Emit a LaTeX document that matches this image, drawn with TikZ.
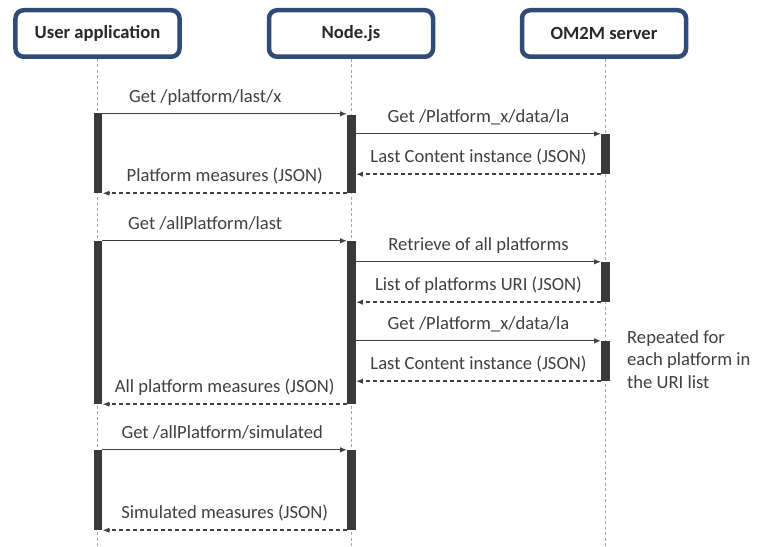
\documentclass[tikz,border=0pt]{standalone}
\usepackage{fontspec}
\setmainfont{Carlito}
\usetikzlibrary{arrows.meta}
\definecolor{boxblue}{RGB}{48,75,117}
\definecolor{txt}{RGB}{64,64,64}
\definecolor{ttl}{RGB}{40,40,40}
\definecolor{barc}{RGB}{58,58,58}
\definecolor{lifec}{RGB}{165,165,165}
\tikzset{
  actor/.style={draw=boxblue, line width=4.5bp, rounded corners=8bp, fill=white,
    minimum width=164bp, minimum height=46.5bp, inner sep=0pt, text=ttl,
    font=\fontsize{18.6bp}{22bp}\selectfont\bfseries},
  life/.style={draw=lifec, line width=0.8bp, dash pattern=on 3bp off 2.5bp},
  actbar/.style={fill=barc, draw=none, inner sep=0pt, minimum width=8.5bp},
  msg/.style={draw=txt, line width=1.3bp, -{Latex[length=7bp,width=5.5bp]}},
  ret/.style={msg, dash pattern=on 4.5bp off 2.5bp, line width=1.5bp},
  lbl/.style={text=txt, anchor=base, yshift=11.5bp, inner sep=0pt,
    font=\fontsize{18.6bp}{22.5bp}\selectfont},
}
\begin{document}
\begin{tikzpicture}[x=1bp,y=-1bp]
\useasboundingbox (0,0) rectangle (761,547);
% actors
\node[actor] (ua) at (97.5,33.5) {User application};
\node[actor] (nj) at (351,33.5) {Node.js};
\node[actor] (om) at (604,33.5) {OM2M server};
% lifelines
\coordinate (uaend) at (97.5,547);
\coordinate (njend) at (351,547);
\coordinate (omend) at (605,547);
\draw[life] (ua.south) -- (uaend);
\draw[life] (nj.south) -- (njend);
\draw[life] (om.south -| omend) -- (omend);
% activation bars, block 1
\node[actbar, minimum height=80bp] (a1) at (98,153) {};
\node[actbar, minimum height=78bp] (b1) at (351.5,154) {};
\node[actbar, minimum height=40bp] (c1) at (605.5,154) {};
% block 2
\node[actbar, minimum height=163bp] (a2) at (98,322.5) {};
\node[actbar, minimum height=163bp] (b2) at (351.5,322.5) {};
\node[actbar, minimum height=40bp] (c2) at (605.5,282) {};
\node[actbar, minimum height=40bp] (c3) at (605.5,361) {};
% block 3
\node[actbar, minimum height=80bp] (a3) at (98,490) {};
\node[actbar, minimum height=80bp] (b3) at (351.5,490) {};
% messages block 1
\draw[msg] ([yshift=-1bp]a1.north east) -- ([yshift=-1bp]a1.north east -| b1.west)
  node[lbl, pos=0.42] (l1) {Get /platform/last/x};
\draw[msg] (c1.north west -| b1.east) -- (c1.north west)
  node[lbl, midway] (l2) {Get /Platform\_x/data/la};
\draw[ret] (c1.south west) -- (c1.south west -| b1.east)
  node[lbl, midway] (l3) {Last Content instance (JSON)};
\draw[ret] (b1.south west) -- (b1.south west -| a1.east)
  node[lbl, midway] (l4) {Platform measures (JSON)};
% messages block 2
\draw[msg] (a2.north east) -- (a2.north east -| b2.west)
  node[lbl, pos=0.42] (l5) {Get /allPlatform/last};
\draw[msg] (c2.north west -| b2.east) -- (c2.north west)
  node[lbl, midway] (l6) {Retrieve of all platforms};
\draw[ret] (c2.south west) -- (c2.south west -| b2.east)
  node[lbl, midway] (l7) {List of platforms URI (JSON)};
\draw[msg] (c3.north west -| b2.east) -- (c3.north west)
  node[lbl, midway] (l8) {Get /Platform\_x/data/la};
\draw[ret] (c3.south west) -- (c3.south west -| b2.east)
  node[lbl, midway] (l9) {Last Content instance (JSON)};
\draw[ret] (b2.south west) -- (b2.south west -| a2.east)
  node[lbl, midway] (l10) {All platform measures (JSON)};
% messages block 3
\draw[msg] (a3.north east) -- (a3.north east -| b3.west)
  node[lbl, pos=0.49] (l11) {Get /allPlatform/simulated};
\draw[ret] (b3.south west) -- (b3.south west -| a3.east)
  node[lbl, midway] (l12) {Simulated measures (JSON)};
% note
\node[text=txt, anchor=north west, align=left, inner sep=0pt,
  font=\fontsize{18.6bp}{22.5bp}\selectfont] (note) at (627,330)
  {Repeated for\\each platform in\\the URI list};
\end{tikzpicture}
\end{document}
